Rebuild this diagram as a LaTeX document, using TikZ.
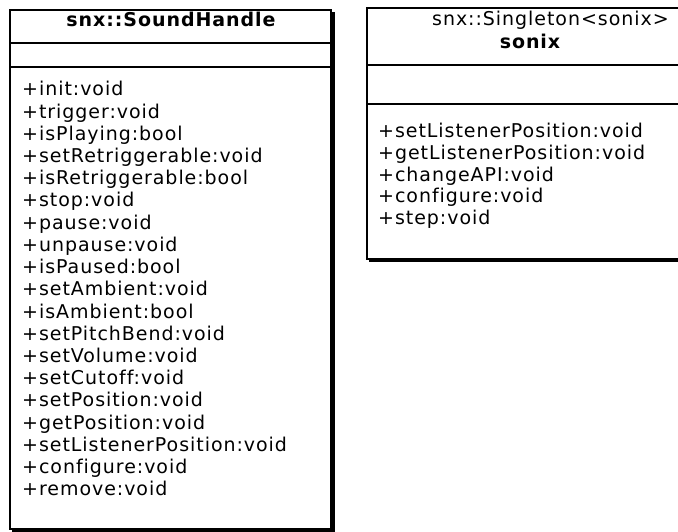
\documentclass[tikz,border=0pt]{standalone}
\usepackage{fontspec}
\setmainfont{DejaVu Sans}[LetterSpace=5,Ligatures=NoCommon]
\begin{document}
\begin{tikzpicture}[x=1pt,y=-1pt,
  item/.style={anchor=base west, inner sep=0pt, font=\fontsize{19}{22}\selectfont},
  ttl/.style={anchor=base, inner sep=0pt, font=\fontsize{19}{22}\selectfont\bfseries},
  stereo/.style={anchor=base west, inner sep=0pt, font=\fontsize{19}{22}\selectfont},
  frame/.style={draw=black, line width=1.4pt},
  shade/.style={fill=black}]
\useasboundingbox (0,0) rectangle (678,532);
\begin{scope}
\clip (0,0) rectangle (678,532);
% left class box
\fill[shade] (331,12) rectangle (335,531);
\fill[shade] (12,528.5) rectangle (335,531.5);
\draw[frame] (10,10) rectangle (331,529);
\draw[frame] (10,43) -- (331,43);
\draw[frame] (10,67) -- (331,67);
\node[ttl] (shTitle) at (171,27) {snx::SoundHandle};
\foreach \t [count=\i] in {init:void, trigger:void, isPlaying:bool, setRetriggerable:void, isRetriggerable:bool, stop:void, pause:void, unpause:void, isPaused:bool, setAmbient:void, isAmbient:bool, setPitchBend:void, setVolume:void, setCutoff:void, setPosition:void, getPosition:void, setListenerPosition:void, configure:void, remove:void}
  \node[item] (sh\i) at (22,{96+(\i-1)*22.2}) {+\t};
% right class box
\fill[shade] (369,258) rectangle (700,262);
\draw[frame] (367,8) rectangle (700,259);
\draw[frame] (367,65) -- (700,65);
\draw[frame] (367,104) -- (700,104);
\node[stereo] (soStereo) at (432,26) {snx::Singleton<sonix>};
\node[ttl] (soTitle) at (530,49) {sonix};
\foreach \t [count=\i] in {setListenerPosition:void, getListenerPosition:void, changeAPI:void, configure:void, step:void}
  \node[item] (so\i) at (378,{138+(\i-1)*21.6}) {+\t};
\end{scope}
\end{tikzpicture}
\end{document}
